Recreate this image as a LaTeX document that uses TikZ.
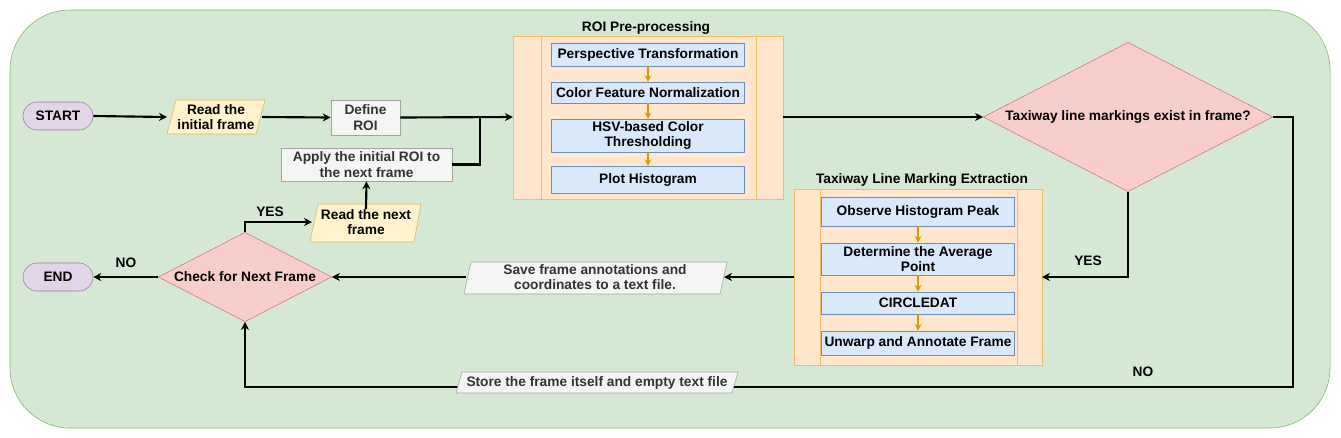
\documentclass[tikz,border=0pt]{standalone}
\usepackage{fontspec}
\setmainfont{Liberation Sans}
\usetikzlibrary{shapes.geometric,shapes.misc,arrows.meta}
\definecolor{bgf}{HTML}{D5E8D4}\definecolor{bgd}{HTML}{82B366}
\definecolor{puf}{HTML}{E1D5E7}\definecolor{pud}{HTML}{9673A6}
\definecolor{yef}{HTML}{FFF2CC}\definecolor{yed}{HTML}{D6B656}
\definecolor{grf}{HTML}{F5F5F5}\definecolor{grd}{HTML}{666666}
\definecolor{orf}{HTML}{FFE6CC}\definecolor{ord}{HTML}{F0C060}
\definecolor{blf}{HTML}{DAE8FC}\definecolor{bld}{HTML}{6C8EBF}
\definecolor{ref}{HTML}{F8CECC}\definecolor{red}{HTML}{D07070}
\definecolor{arr}{HTML}{D79B00}
\tikzset{
 every node/.style={font=\fontsize{10.3}{11.5}\selectfont\bfseries, align=center, inner sep=0pt},
 term/.style={rounded rectangle, draw=pud, fill=puf, minimum width=52.5pt, minimum height=21pt},
 gbox/.style={draw=grd!60, fill=grf, text=black!80},
 bbox/.style={draw=bld, fill=blf},
 cont/.style={draw=ord, fill=orf},
 conn/.style={line width=1.6pt, -{Stealth[length=6pt,width=6pt]}},
 oconn/.style={line width=1.2pt, draw=arr, -{Stealth[length=5pt,width=5pt]}},
 dia/.style={diamond, draw=red, fill=ref},
}
\begin{document}
\begin{tikzpicture}[x=0.75pt,y=-0.75pt]
\useasboundingbox (0,0) rectangle (1341,437);
\draw[draw=bgd, fill=bgf, rounded corners=45pt] (10,10) rectangle (1330,428);
% ROI container
\draw[cont] (513,36) rectangle (783,199);
\draw[ord] (541,36) -- (541,199) (756,36) -- (756,199);
\node (roit) at (646,28) {ROI Pre-processing};
\coordinate (roiL) at (513,117); \coordinate (roiR) at (783,117);
\node[bbox, minimum width=145pt, minimum height=17pt] (p1) at (648,54.5) {Perspective Transformation};
\node[bbox, minimum width=145pt, minimum height=15.5pt] (p2) at (648,92.5) {Color Feature Normalization};
\node[bbox, minimum width=145pt, minimum height=24.5pt] (p3) at (648,135.5) {HSV-based Color\\Thresholding};
\node[bbox, minimum width=145pt, minimum height=20pt] (p4) at (648,179.5) {Plot Histogram};
\draw[oconn] (p1) -- (p2); \draw[oconn] (p2) -- (p3); \draw[oconn] (p3) -- (p4);
% extraction container
\draw[cont] (794,189) rectangle (1042,365);
\draw[ord] (820,189) -- (820,365) (1017,189) -- (1017,365);
\node (ext) at (922,180) {Taxiway Line Marking Extraction};
\coordinate (exL) at (794,277); \coordinate (exR) at (1042,277);
\node[bbox, minimum width=145pt, minimum height=22pt] (e1) at (918,211.5) {Observe Histogram Peak};
\node[bbox, minimum width=145pt, minimum height=24pt] (e2) at (918,259) {Determine the Average\\Point};
\node[bbox, minimum width=145pt, minimum height=16.5pt] (e3) at (918,303) {CIRCLEDAT};
\node[bbox, minimum width=145pt, minimum height=18pt] (e4) at (918,343) {Unwarp and Annotate Frame};
\draw[oconn] (e1) -- (e2); \draw[oconn] (e2) -- (e3); \draw[oconn] (e3) -- (e4);
% simple nodes
\node[term] (start) at (58,116) {START};
\node[term] (end) at (58,277) {END};
\draw[draw=yed, fill=yef] (176,100) -- (265,100) -- (256,134) -- (167,134) -- cycle;
\node (rinit) at (216,117) {Read the\\initial frame};
\node[gbox, minimum width=51.75pt, minimum height=26.25pt] (def) at (365.5,117.5) {Define\\ROI};
\node[gbox, minimum width=128pt, minimum height=24.75pt] (apply) at (366.5,164.5) {Apply the initial ROI to\\the next frame};
\draw[draw=yed, fill=yef] (318,204) -- (421,204) -- (414,242) -- (310,242) -- cycle;
\node (rnext) at (366,222) {Read the next\\frame};
\node[dia, minimum width=130pt, minimum height=67pt, inner sep=0pt] (check) at (245,277) {};
\node at (245,277) {Check for Next Frame};
\node[dia, minimum width=217pt, minimum height=112pt] (taxi) at (1128,117) {};
\node at (1128,117) {Taxiway line markings exist in frame?};
\draw[gbox] (471,262) -- (727,262) -- (720,294) -- (464,294) -- cycle;
\node[text=black!80] (save) at (595,277) {Save frame annotations and\\coordinates to a text file.};
\coordinate (saveL) at (466,277); \coordinate (saveR) at (724,277);
% connectors
\draw[conn] (start.east) -- (167,117);
\draw[conn] (262,117) -- (def.west);
\draw[conn] (def.east) -- (roiL);
\draw[line width=1.6pt] (apply.east) -| (480,117);
\draw[conn] (rnext.north) -- (apply.south);
\draw[conn] (check.north) |- (312,222);
\node at (270,212) {YES};
\draw[conn] (check.west) -- (end.east);
\node at (126,263) {NO};
\draw[conn] (roiR) -- (taxi.west);
\draw[conn] (taxi.south) |- (exR);
\node at (1088,261) {YES};
\draw[conn] (exL) -- (saveR);
\draw[conn] (saveL) -- (check.east);
\draw[conn] (taxi.east) -- (1293,117) -- (1293,387) -| (check.south);
\node at (1143,372) {NO};
\draw[gbox] (462,372) -- (738,372) -- (732,393) -- (456,393) -- cycle;
\node[text=black!80] (store) at (597,382.5) {Store the frame itself and empty text file};
\end{tikzpicture}
\end{document}
